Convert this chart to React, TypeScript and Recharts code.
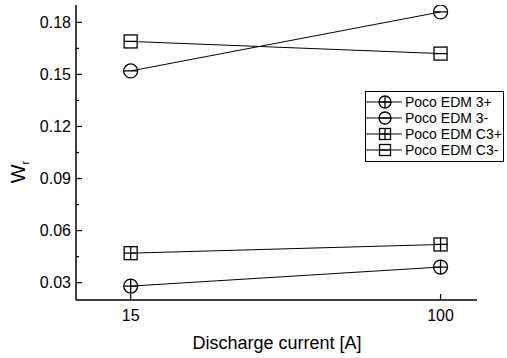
import { LineChart, Line, XAxis, YAxis } from 'recharts';

// discharge current [A]
const currents = [15, 100];
// wear ratio Wr per electrode / polarity
const poco3Plus = [0.028, 0.039];
const poco3Minus = [0.152, 0.186];
const pocoC3Plus = [0.047, 0.052];
const pocoC3Minus = [0.169, 0.162];

const xTicks = [15, 100];
const yMajorTicks = [0.03, 0.06, 0.09, 0.12, 0.15, 0.18];
const yMinorTicks = [0.045, 0.075, 0.105, 0.135, 0.165];

const FONT = '"Liberation Sans", Arial, sans-serif';

type Shape = 'circlePlus' | 'circleMinus' | 'squarePlus' | 'squareMinus';

const seriesList: { key: string; name: string; values: number[]; shape: Shape }[] = [
  { key: 'p3p', name: 'Poco EDM 3+', values: poco3Plus, shape: 'circlePlus' },
  { key: 'p3m', name: 'Poco EDM 3-', values: poco3Minus, shape: 'circleMinus' },
  { key: 'c3p', name: 'Poco EDM C3+', values: pocoC3Plus, shape: 'squarePlus' },
  { key: 'c3m', name: 'Poco EDM C3-', values: pocoC3Minus, shape: 'squareMinus' },
];

const data = currents.map((c, i) => {
  const row: Record<string, number> = { current: c };
  seriesList.forEach((s) => (row[s.key] = s.values[i]));
  return row;
});

function Marker({ cx, cy, shape, r }: { cx: number; cy: number; shape: Shape; r: number }) {
  const isCircle = shape === 'circlePlus' || shape === 'circleMinus';
  const isPlus = shape === 'circlePlus' || shape === 'squarePlus';
  return (
    <g stroke="#000" strokeWidth={1.3} fill="none">
      {isCircle ? (
        <circle cx={cx} cy={cy} r={r} />
      ) : (
        <rect x={cx - r + 0.5} y={cy - r + 0.5} width={2 * r - 1} height={2 * r - 1} />
      )}
      <line x1={cx - r} x2={cx + r} y1={cy} y2={cy} />
      {isPlus && <line x1={cx} x2={cx} y1={cy - r} y2={cy + r} />}
    </g>
  );
}

function YTick(props: any) {
  const { x, y, payload } = props;
  const major = yMajorTicks.includes(payload.value);
  return (
    <g>
      <line x1={x} x2={x + (major ? 6 : 3)} y1={y} y2={y} stroke="#000" strokeWidth={1.2} />
      {major && (
        <text x={x - 5} y={y} dy={5.5} textAnchor="end" fontSize={16} fontFamily={FONT} fill="#000">
          {payload.value.toFixed(2)}
        </text>
      )}
    </g>
  );
}

function XTick(props: any) {
  const { x, y, payload } = props;
  return (
    <g>
      <line x1={x} x2={x} y1={y} y2={y - 6} stroke="#000" strokeWidth={1.2} />
      <text x={x} y={y + 21} textAnchor="middle" fontSize={16} fontFamily={FONT} fill="#000">
        {payload.value}
      </text>
    </g>
  );
}

function LegendBox() {
  return (
    <div
      style={{
        position: 'absolute',
        left: 365,
        top: 91,
        width: 137,
        border: '1px solid #000',
        background: '#fff',
        padding: '2px 0 3px 0',
        fontFamily: FONT,
        fontSize: 14,
        color: '#000',
      }}
    >
      {seriesList.map((s) => (
        <div key={s.key} style={{ display: 'flex', alignItems: 'center', height: 16 }}>
          <svg width={36} height={16} style={{ display: 'block' }}>
            <line x1={0} x2={36} y1={8} y2={8} stroke="#000" strokeWidth={1} />
            <Marker cx={19} cy={8} r={6} shape={s.shape} />
          </svg>
          <span style={{ marginLeft: 3, whiteSpace: 'nowrap' }}>{s.name}</span>
        </div>
      ))}
    </div>
  );
}

export default function App() {
  return (
    <div style={{ position: 'absolute', left: 0, top: 0, width: 507, height: 358, background: '#fff' }}>
      <LineChart width={507} height={358} data={data} margin={{ top: 5, right: 30, bottom: 0, left: 0 }}>
        <XAxis
          dataKey="current"
          type="number"
          domain={[0, 110]}
          ticks={xTicks}
          interval={0}
          height={58}
          tickSize={0}
          tickMargin={0}
          tickLine={false}
          tick={<XTick />}
          axisLine={{ stroke: '#000', strokeWidth: 1.5 }}
          label={{
            content: () => (
              <text x={277} y={349} textAnchor="middle" fontSize={18} fontFamily={FONT} fill="#000">
                Discharge current [A]
              </text>
            ),
          }}
        />
        <YAxis
          type="number"
          domain={[0.02, 0.19]}
          ticks={[...yMajorTicks, ...yMinorTicks].sort((a, b) => a - b)}
          interval={0}
          width={76}
          tickSize={0}
          tickMargin={0}
          tickLine={false}
          tick={<YTick />}
          axisLine={{ stroke: '#000', strokeWidth: 1.5 }}
          allowDataOverflow
          label={{
            content: () => (
              <text
                transform="translate(25,172) rotate(-90)"
                textAnchor="middle"
                fontSize={20}
                fontFamily={FONT}
                fill="#000"
              >
                W
                <tspan fontSize={11} dy={4}>
                  r
                </tspan>
              </text>
            ),
          }}
        />
        {seriesList.map((s) => (
          <Line
            key={s.key}
            dataKey={s.key}
            name={s.name}
            type="linear"
            stroke="#000"
            strokeWidth={1}
            isAnimationActive={false}
            activeDot={false}
            dot={(p: any) => (
              <Marker key={`${s.key}-${p.index}`} cx={p.cx} cy={p.cy} r={7} shape={s.shape} />
            )}
          />
        ))}
      </LineChart>
      <LegendBox />
    </div>
  );
}
